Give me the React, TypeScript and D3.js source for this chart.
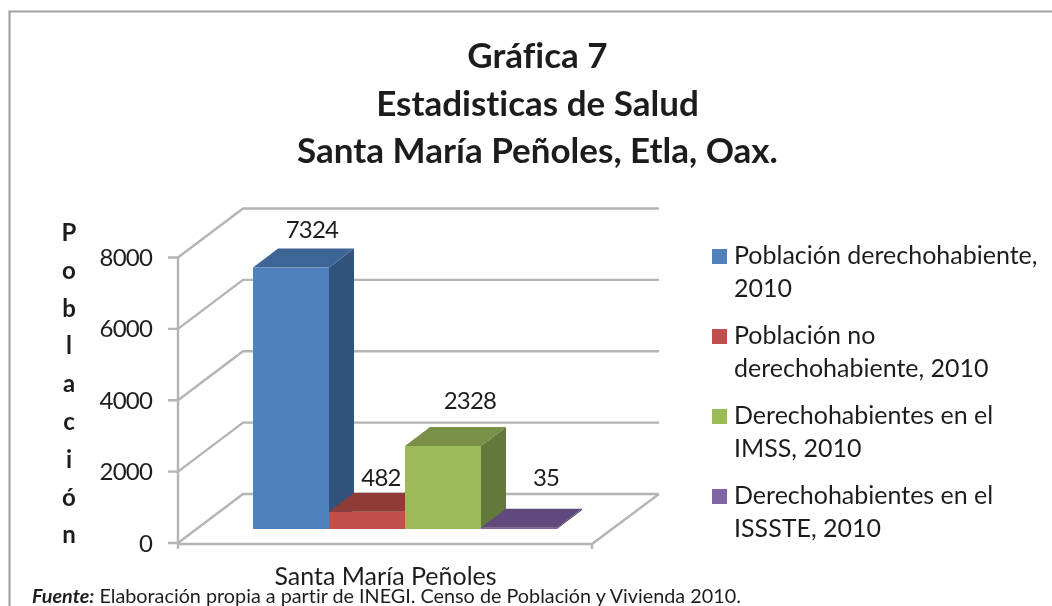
import React from "react";
import * as d3 from "d3";

const titleLines = ["Gráfica 7", "Estadisticas de Salud", "Santa María Peñoles, Etla, Oax."];
const axisTitle = ["P", "o", "b", "l", "a", "c", "i", "ó", "n"];
const category = "Santa María Peñoles";
const seriesValues = [7324, 482, 2328, 35];
const yTicks = [0, 2000, 4000, 6000, 8000];
const legendLines = [
  ["Población derechohabiente,", "2010"],
  ["Población no", "derechohabiente, 2010"],
  ["Derechohabientes en el", "IMSS, 2010"],
  ["Derechohabientes en el", "ISSSTE, 2010"],
];
const frontColors = ["#4f81bd", "#c0504d", "#9bbb59", "#8064a2"];
const sideColors = ["#30527b", "#7d3432", "#63783a", "#533f6b"];
const topColors = ["#3d6595", "#8f3a38", "#7a8f47", "#604a7b"];
const labelPos = [
  { x: 312, y: 238 },
  { x: 381, y: 486 },
  { x: 470, y: 409 },
  { x: 546, y: 486 },
];
const source = "Elaboración propia a partir de INEGI. Censo de Población y Vivienda 2010.";

const FONT = "Lato, Carlito, sans-serif";
const TEXT = "#1f1f1f";
const GRID = "#b4b4b4";

export default function App() {
  const y = d3.scaleLinear().domain([0, 8000]).range([543, 257.5]);
  const depth = { x: 65, y: -49 };
  const floorRight = 592;
  const barBase = 529;
  const x = d3.scaleBand<number>().domain(seriesValues.map((_, i) => i)).range([253, 557]).padding(0);
  const bd = { x: 25, y: -19 };
  const h = (v: number) => y(0) - y(v);
  const line = d3.line<[number, number]>();

  return (
    <svg
      width={1052}
      height={606}
      viewBox="0 0 1052 606"
      style={{ position: "absolute", left: 0, top: 0, background: "#fff", fontVariantLigatures: "none" }}
      fontFamily={FONT}
    >
      <defs>
        <filter id="soft" x="-5%" y="-5%" width="110%" height="110%">
          <feGaussianBlur stdDeviation="0.45" />
        </filter>
      </defs>
      <g filter="url(#soft)">
        <path d="M9.5,606 V11.5 H1052" fill="none" stroke="#a2a2a6" strokeWidth={2.2} />

        {titleLines.map((t, i) => (
          <text key={t} x={537.5} y={68 + i * 47.5} textAnchor="middle" fontWeight={700} fontSize={35} fill={TEXT}>
            {t}
          </text>
        ))}

        {axisTitle.map((c, i) => (
          <text key={i} x={69} y={241 + i * 37.8} textAnchor="middle" fontWeight={700} fontSize={24} fill={TEXT}>
            {c}
          </text>
        ))}

        {yTicks.map((t) => (
          <g key={t}>
            <path
              d={line([
                [168, y(t)],
                [178, y(t)],
                [178 + depth.x, y(t) + depth.y],
                [659, y(t) + depth.y],
              ])!}
              fill="none"
              stroke={GRID}
              strokeWidth={2.4}
            />
            <text x={152} y={y(t) + 8.5} textAnchor="end" fontSize={24} letterSpacing={-0.8} fill={TEXT}>
              {t}
            </text>
          </g>
        ))}

        <path
          d={line([
            [178, y(0) - 1],
            [178, y(8000)],
          ])!}
          stroke={GRID}
          strokeWidth={2.4}
          fill="none"
        />
        <path
          d={line([
            [178, y(0) + 1],
            [floorRight, y(0) + 1],
            [659, y(0) + depth.y],
          ])!}
          stroke={GRID}
          strokeWidth={2.4}
          fill="none"
        />
        <path d={`M178,${y(0)} V${y(0) + 6} M${floorRight},${y(0)} V${y(0) + 6}`} stroke={GRID} strokeWidth={2.4} />

        {seriesValues.map((v, i) => {
          const x0 = x(i)!;
          const w = x.bandwidth();
          const top = barBase - h(v);
          return (
            <g key={i}>
              <path
                d={`M${x0 + w},${barBase} L${x0 + w + bd.x},${barBase + bd.y} V${top + bd.y} L${x0 + w},${top} Z`}
                fill={sideColors[i]}
              />
              <rect x={x0} y={top} width={w} height={barBase - top} fill={frontColors[i]} />
              <path
                d={`M${x0},${top} L${x0 + bd.x},${top + bd.y} H${x0 + w + bd.x} L${x0 + w},${top} Z`}
                fill={topColors[i]}
              />
            </g>
          );
        })}

        {seriesValues.map((v, i) => (
          <text key={i} x={labelPos[i].x} y={labelPos[i].y} textAnchor="middle" fontSize={24} letterSpacing={-0.8} fill={TEXT}>
            {v}
          </text>
        ))}

        {legendLines.map((lines, i) => (
          <g key={i}>
            <rect x={712} y={249 + i * 80} width={15} height={15} fill={frontColors[i]} />
            {lines.map((l, j) => (
              <text key={j} x={734} y={264 + i * 80 + j * 32.5} fontSize={25} fill={TEXT}>
                {l}
              </text>
            ))}
          </g>
        ))}

        <text x={385.5} y={585} textAnchor="middle" fontSize={25} fill={TEXT}>
          {category}
        </text>
        <text x={32} y={603} fontSize={19.8} fill={TEXT}>
          <tspan fontWeight={700} fontStyle="italic">Fuente:</tspan>
          <tspan dx={5}>{source}</tspan>
        </text>
      </g>
    </svg>
  );
}
